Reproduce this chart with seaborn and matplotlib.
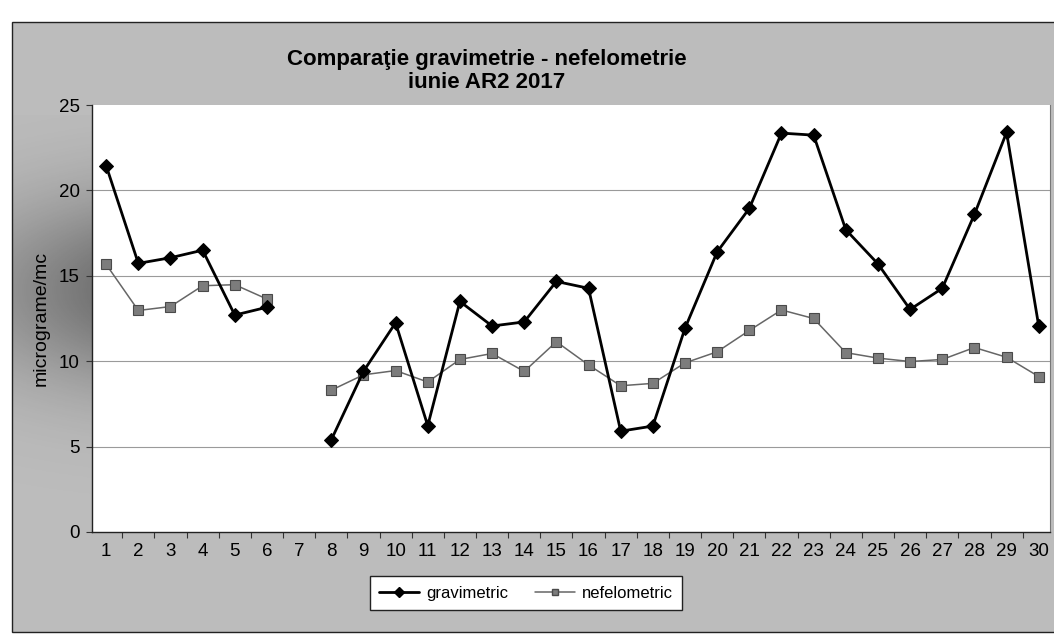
import numpy as np
import pandas as pd
import matplotlib
matplotlib.use("Agg")
import matplotlib.pyplot as plt
from matplotlib.patches import Rectangle
from matplotlib.lines import Line2D
import seaborn as sns

days = list(range(1, 31))
gravimetric = [21.45, 15.73, 16.06, 16.5, 12.7, 13.16, np.nan, 5.39, 9.4, 12.25,
               6.22, 13.5, 12.06, 12.3, 14.67, 14.27, 5.9, 6.2, 11.93, 16.4,
               18.95, 23.36, 23.24, 17.7, 15.7, 13.03, 14.27, 18.6, 23.4, 12.05]
nefelometric = [15.67, 12.97, 13.2, 14.42, 14.48, 13.64, np.nan, 8.3, 9.2, 9.45,
                8.78, 10.1, 10.45, 9.4, 11.14, 9.78, 8.56, 8.7, 9.9, 10.55,
                11.8, 13.0, 12.5, 10.5, 10.18, 9.98, 10.1, 10.8, 10.23, 9.1]
series_names = ["gravimetric", "nefelometric"]
title_text = "Comparaţie gravimetrie - nefelometrie\niunie AR2 2017"
y_label = "micrograme/mc"
y_ticks = [0, 5, 10, 15, 20, 25]

sns.set_theme(style="white")
plt.rcParams["font.family"] = ["Liberation Sans", "DejaVu Sans"]
plt.rcParams["text.color"] = "black"
plt.rcParams["axes.labelcolor"] = "black"
plt.rcParams["xtick.color"] = "black"
plt.rcParams["ytick.color"] = "black"

def to_frame(values):
    df = pd.DataFrame({"day": days, "val": values})
    df["seg"] = np.cumsum(df["val"].isna().astype(int))
    return df.dropna()

fig = plt.figure(figsize=(10.54, 6.37), dpi=100)
fig.patch.set_facecolor("white")
bg = Rectangle((0.011, 0.008), 0.995, 0.957, transform=fig.transFigure,
               facecolor="#bcbcbc", edgecolor="#222222", linewidth=1.0, zorder=-10)
fig.patches.append(bg)

# darker scan shadow behind the y-axis label
sh = fig.add_axes([0.012, 0.22, 0.075, 0.6])
sh.set_zorder(-5)
yy = np.linspace(-1, 1, 200)[:, None]
xx = np.linspace(0, 1, 40)[None, :]
alpha = 0.38 * np.exp(-((yy + 0.08) / 0.5) ** 2) * (0.6 + 0.4 * xx)
rgba = np.zeros((200, 40, 4))
rgba[..., 3] = alpha
sh.imshow(rgba, aspect="auto", extent=(0, 1, 0, 1))
sh.axis("off")

ax = fig.add_axes([0.0873, 0.165, 0.9089, 0.670])
ax.set_zorder(2)
ax.set_facecolor("white")

g_df = to_frame(gravimetric)
n_df = to_frame(nefelometric)

sns.lineplot(data=n_df, x="day", y="val", units="seg", estimator=None, ax=ax,
             color="#666666", linewidth=1.1, marker="s", markersize=7,
             markerfacecolor="#7c7c7c", markeredgecolor="#4a4a4a",
             markeredgewidth=0.8, legend=False, zorder=3)
sns.lineplot(data=g_df, x="day", y="val", units="seg", estimator=None, ax=ax,
             color="black", linewidth=2.0, marker="D", markersize=7,
             markerfacecolor="black", markeredgecolor="black", legend=False,
             zorder=4)

ax.set_xlim(0.56, 30.35)
ax.set_ylim(0, 25)
ax.set_yticks(y_ticks)
ax.set_yticklabels([str(t) for t in y_ticks], fontsize=13.5)
ax.set_xticks(days)
ax.set_xticklabels([str(d) for d in days], fontsize=13.5)
ax.set_xticks(np.arange(1.5, 30.5, 1), minor=True)
ax.tick_params(axis="x", which="major", length=0, pad=8)
ax.tick_params(axis="x", which="minor", length=4, width=0.8, color="#333333",
               direction="out", bottom=True)
ax.tick_params(axis="y", which="major", length=4, width=0.8, color="#333333",
               direction="out", left=True, pad=5)
ax.set_xlabel("")
ax.set_ylabel(y_label, fontsize=14, labelpad=6)
for yv in [5, 10, 15, 20]:
    ax.axhline(yv, color="#9a9a9a", linewidth=0.8, zorder=1)
ax.spines["top"].set_visible(False)
ax.spines["right"].set_color("#777777")
ax.spines["right"].set_linewidth(0.8)
for side in ["left", "bottom"]:
    ax.spines[side].set_color("#222222")
    ax.spines[side].set_linewidth(1.0)

fig.text(0.462, 0.889, title_text, ha="center", va="center", fontsize=16,
         fontweight="bold", linespacing=1.15, color="black")

handles = [
    Line2D([0], [0], color="black", linewidth=2.0, marker="D", markersize=5,
           markerfacecolor="black"),
    Line2D([0], [0], color="#666666", linewidth=1.1, marker="s", markersize=5,
           markerfacecolor="#7c7c7c", markeredgecolor="#4a4a4a"),
]
leg = fig.legend(handles, series_names, loc="center", bbox_to_anchor=(0.499, 0.069),
                 ncol=2, fontsize=12, frameon=True, fancybox=False,
                 edgecolor="#222222", facecolor="white", framealpha=1,
                 handlelength=2.4, handletextpad=0.4, columnspacing=1.6,
                 borderpad=0.55)
leg.get_frame().set_linewidth(1.0)

fig.savefig("out.png", dpi=100, facecolor=fig.get_facecolor())
